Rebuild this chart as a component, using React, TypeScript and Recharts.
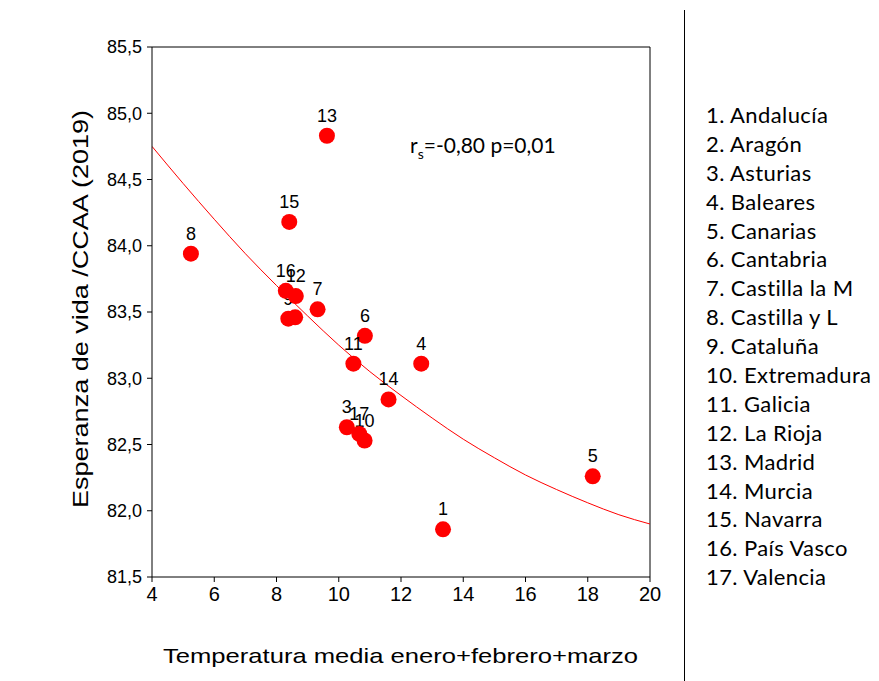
import React from "react";
import {
  ComposedChart,
  XAxis,
  YAxis,
  Scatter,
  Line,
  ReferenceLine,
} from "recharts";

const regionIds = [1, 2, 3, 4, 5, 6, 7, 8, 9, 10, 11, 12, 13, 14, 15, 16, 17];
const regionNames = [
  "Andalucía",
  "Aragón",
  "Asturias",
  "Baleares",
  "Canarias",
  "Cantabria",
  "Castilla la M",
  "Castilla y L",
  "Cataluña",
  "Extremadura",
  "Galicia",
  "La Rioja",
  "Madrid",
  "Murcia",
  "Navarra",
  "País Vasco",
  "Valencia",
];
const temperature = [13.35, 8.6, 10.26, 12.65, 18.16, 10.84, 9.32, 5.25, 8.38, 10.83, 10.47, 8.62, 9.62, 11.6, 8.41, 8.3, 10.66];
const lifeExpectancy = [81.86, 83.46, 82.63, 83.11, 82.26, 83.32, 83.52, 83.94, 83.45, 82.53, 83.11, 83.62, 84.83, 82.84, 84.18, 83.66, 82.58];

const curveX = [4, 5, 6, 7, 8, 9, 10, 11, 12, 13, 14, 15, 16, 17, 18, 19, 20];
const curveY = [84.75, 84.47, 84.2, 83.94, 83.7, 83.47, 83.25, 83.05, 82.87, 82.7, 82.54, 82.4, 82.27, 82.16, 82.06, 81.97, 81.9];

const xTicks = [4, 6, 8, 10, 12, 14, 16, 18, 20];
const yTicks = [81.5, 82.0, 82.5, 83.0, 83.5, 84.0, 84.5, 85.0, 85.5];

const xTitle = "Temperatura media enero+febrero+marzo";
const yTitle = "Esperanza de vida /CCAA (2019)";

const points = regionIds.map((id, i) => ({ id, x: temperature[i], y: lifeExpectancy[i] }));
const curve = curveX.map((x, i) => ({ x, y: curveY[i] }));

const ARIAL = "'Liberation Sans', Arial, sans-serif";
const CAL = "Lato, 'Open Sans', sans-serif";

const fmt = (v: number) => v.toFixed(1).replace(".", ",");

const Dot = (props: any) => {
  const { cx, cy, payload } = props;
  if (cx == null || cy == null) return null;
  return (
    <g>
      <circle cx={cx} cy={cy} r={8} fill="#ff0000" />
      <text
        x={cx}
        y={cy - 14}
        textAnchor="middle"
        fontFamily={ARIAL}
        fontSize={18}
        fill="#000"
      >
        {payload.id}
      </text>
    </g>
  );
};

export default function App() {
  return (
    <div style={{ position: "absolute", left: 0, top: 0, width: 879, height: 681, background: "#fff" }}>
      <ComposedChart
        width={879}
        height={681}
        margin={{ left: 92, top: 47, right: 229, bottom: 74 }}
      >
        <XAxis
          type="number"
          dataKey="x"
          domain={[4, 20]}
          ticks={xTicks}
          allowDataOverflow
          tickSize={5}
          tickMargin={5}
          height={30}
          stroke="#000"
          tick={{ fill: "#000", fontFamily: ARIAL, fontSize: 20 }}
        />
        <YAxis
          type="number"
          dataKey="y"
          domain={[81.5, 85.5]}
          ticks={yTicks}
          allowDataOverflow
          tickFormatter={fmt}
          tickSize={5}
          tickMargin={5}
          width={60}
          stroke="#000"
          tick={{ fill: "#000", fontFamily: ARIAL, fontSize: 18 }}
        />
        <ReferenceLine y={85.5} stroke="#000" />
        <ReferenceLine x={20} stroke="#000" />
        <Line
          data={curve}
          dataKey="y"
          type="monotone"
          stroke="#ff0000"
          strokeWidth={1}
          dot={false}
          activeDot={false}
          isAnimationActive={false}
        />
        <Scatter data={points} dataKey="y" shape={<Dot />} isAnimationActive={false} />
        <text x={410} y={153} fontFamily={CAL} fontSize={21} fill="#000">
          r<tspan fontSize={14} dy={6}>s</tspan>
          <tspan dy={-6}>=-0,80 p=0,01</tspan>
        </text>
        <text
          x={163}
          y={663}
          fontFamily={ARIAL}
          fontSize={21}
          fill="#000"
          textLength={475}
          lengthAdjust="spacingAndGlyphs"
        >
          {xTitle}
        </text>
        <text
          transform="translate(88,508) rotate(-90)"
          x={0}
          y={0}
          fontFamily={ARIAL}
          fontSize={22}
          fill="#000"
          textLength={398}
          lengthAdjust="spacingAndGlyphs"
        >
          {yTitle}
        </text>
      </ComposedChart>
      <div
        style={{
          position: "absolute",
          left: 684,
          top: 10,
          width: 1,
          height: 671,
          background: "#000",
        }}
      />
      <div style={{ position: "absolute", left: 706, top: 101 }}>
        {regionIds.map((id, i) => (
          <div
            key={id}
            style={{
              fontFamily: CAL,
              fontSize: 22,
              letterSpacing: 0.4,
              lineHeight: "28.9px",
              height: 28.9,
              color: "#000",
              whiteSpace: "nowrap",
            }}
          >
            {id}. {regionNames[i]}
          </div>
        ))}
      </div>
    </div>
  );
}
